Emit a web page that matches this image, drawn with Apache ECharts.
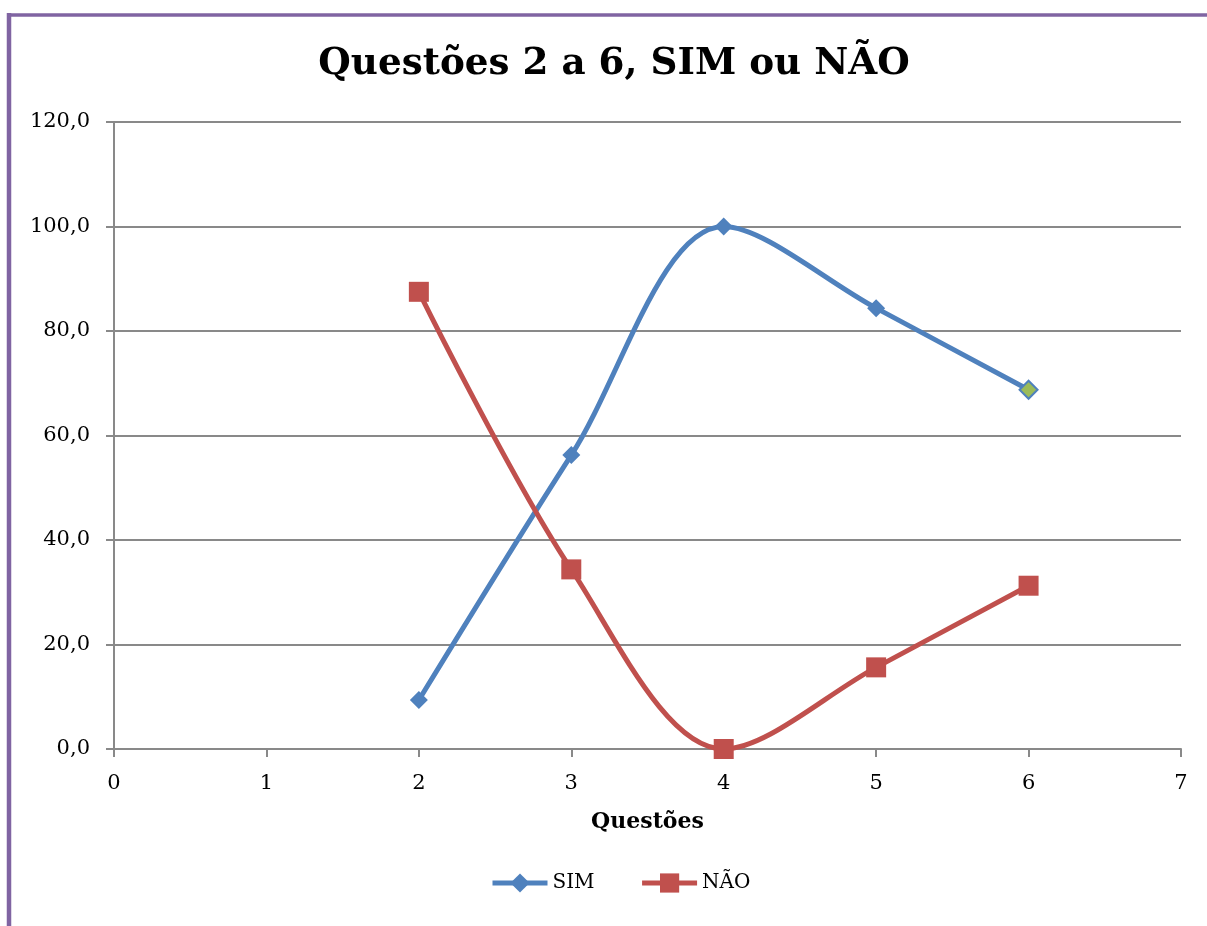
<!DOCTYPE html>
<html>
<head>
<meta charset="utf-8">
<script src="https://cdn.jsdelivr.net/npm/echarts@6/dist/echarts.min.js"></script>
<style>
html,body{margin:0;padding:0;background:#fff;}
#c{width:1207px;height:926px;}
</style>
</head>
<body>
<div id="c"></div>
<script>
const questions = [2, 3, 4, 5, 6];
const simValues = [9.375, 56.25, 100, 84.375, 68.75];
const naoValues = [87.5, 34.375, 0, 15.625, 31.25];
const titleText = 'Questões 2 a 6, SIM ou NÃO';
const xName = 'Questões';
const seriesNames = ['SIM', 'NÃO'];

const serif = '"DejaVu Serif", "Liberation Serif", serif';
const chart = echarts.init(document.getElementById('c'));
const simData = questions.map((q, i) => {
  const d = { value: [q, simValues[i]] };
  if (i === questions.length - 1) d.itemStyle = { color: '#9BBB59', borderColor: '#4F81BD', borderWidth: 2 };
  return d;
});
const naoData = questions.map((q, i) => [q, naoValues[i]]);
chart.setOption({
  animation: false,
  title: {
    text: titleText, left: 609, textAlign: 'center', top: 41,
    textStyle: { fontFamily: serif, fontWeight: 'bold', fontSize: 37.3, color: '#000' }
  },
  graphic: [
    { type: 'line', shape: { x1: 7, y1: 15, x2: 1207, y2: 15 }, style: { stroke: '#8064A2', lineWidth: 3.5 } },
    { type: 'line', shape: { x1: 9, y1: 13, x2: 9, y2: 926 }, style: { stroke: '#8064A2', lineWidth: 4.5 } }
  ],
  legend: {
    top: 873, left: 490, padding: 0, itemWidth: 55, itemHeight: 24, itemGap: 45,
    lineStyle: { width: 5 },
    textStyle: { fontFamily: serif, fontSize: 20, color: '#000' },
    data: seriesNames
  },
  grid: { left: 114, right: 26, top: 122, bottom: 177 },
  xAxis: {
    type: 'value', min: 0, max: 7, interval: 1,
    name: xName, nameLocation: 'middle', nameGap: 62,
    nameTextStyle: { fontFamily: serif, fontWeight: 'bold', fontSize: 22, color: '#000' },
    axisLine: { lineStyle: { color: '#898989', width: 2 } },
    axisTick: { show: true, length: 8, lineStyle: { color: '#898989', width: 2 } },
    axisLabel: { fontFamily: serif, fontSize: 21, color: '#000', margin: 24 },
    splitLine: { show: false }
  },
  yAxis: {
    type: 'value', min: 0, max: 120, interval: 20,
    axisLine: { show: true, lineStyle: { color: '#898989', width: 2 } },
    axisTick: { show: true, length: 8, lineStyle: { color: '#898989', width: 2 } },
    axisLabel: { fontFamily: serif, fontSize: 21, color: '#000', margin: 24,
      formatter: v => v.toFixed(1).replace('.', ',') },
    splitLine: { lineStyle: { color: '#898989', width: 2 } }
  },
  series: [
    {
      name: seriesNames[0], type: 'line', data: simData, smooth: 0.33,
      symbol: 'diamond', symbolSize: 18,
      lineStyle: { color: '#4F81BD', width: 5 },
      itemStyle: { color: '#4F81BD' }
    },
    {
      name: seriesNames[1], type: 'line', data: naoData, smooth: 0.33,
      symbol: 'rect', symbolSize: 20,
      lineStyle: { color: '#C0504D', width: 5 },
      itemStyle: { color: '#C0504D' }
    }
  ]
});
</script>
</body>
</html>
